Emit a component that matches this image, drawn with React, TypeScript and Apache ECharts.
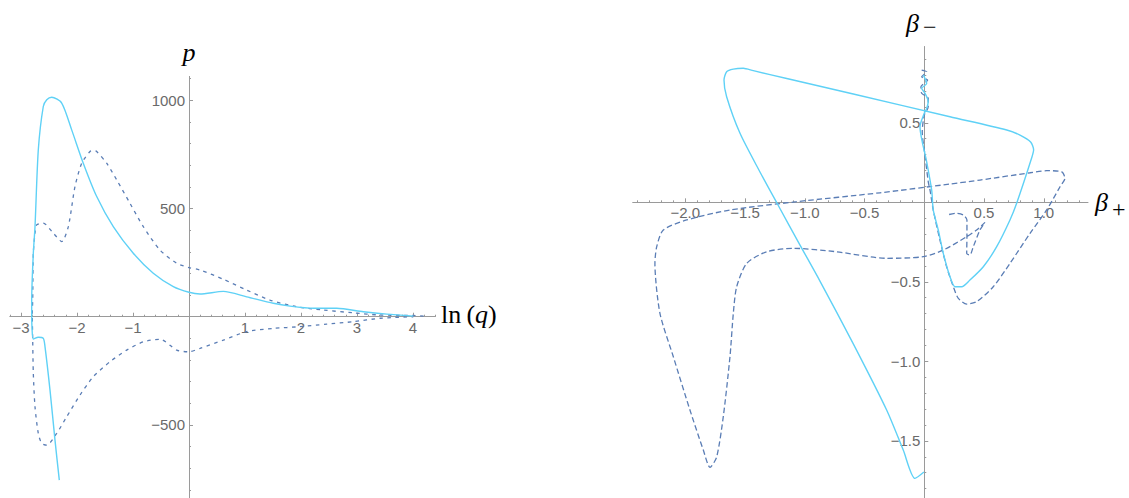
import React, { useEffect, useRef } from "react";
import * as echarts from "echarts";

// ---------- Left plot: p versus ln(q) ----------
const lnQSolid = [-2.316, -2.393, -2.482, -2.571, -2.602, -2.691, -2.78, -2.804, -2.809, -2.809, -2.78, -2.75, -2.691, -2.602, -2.54, -2.452, -2.273, -2.095, -1.888, -1.648, -1.352, -0.995, -0.638, -0.28, 0, 0.196, 0.613, 1.03, 1.505, 1.804, 2.22, 2.638, 3.113, 3.53, 4.005];
const pSolid = [-755, -570, -339, -139, -100, -95, -103, -46, 16, 77, 293, 416, 771, 971, 1002, 1014, 987, 863, 709, 555, 416, 293, 201, 139, 113, 105, 117, 92, 62, 49, 39, 39, 23, 12, 3];

const lnQDashed = [4.189, 4.005, 3.411, 2.934, 2.398, 1.923, 1.446, 1.03, 0.613, 0.196, 0, -0.22, -0.518, -0.816, -1.054, -1.291, -1.47, -1.648, -1.708, -1.768, -1.916, -2.036, -2.155, -2.273, -2.423, -2.602, -2.72, -2.75, -2.78, -2.791, -2.798, -2.791, -2.78, -2.75, -2.691, -2.63, -2.541, -2.363, -2.184, -1.946, -1.709, -1.411, -1.113, -0.816, -0.518, -0.22, 0, 0.196, 0.613, 1.03, 1.505, 1.982, 2.459, 2.934, 3.411, 4.005];
const pDashed = [3, 6, 8, 18, 31, 46, 77, 123, 173, 216, 227, 247, 308, 416, 524, 632, 709, 763, 768, 763, 709, 601, 416, 347, 386, 432, 424, 386, 293, 77, 16, -108, -262, -416, -539, -585, -593, -539, -462, -362, -277, -208, -154, -116, -104, -154, -162, -146, -108, -69, -54, -46, -34, -23, -7, 0];

const leftXLabels = [-3, -2, -1, 1, 2, 3, 4];
const leftYLabels = [-500, 500, 1000];

// ---------- Right plot: beta_- versus beta_+ ----------
const betaPlusSolid = [-0.008, 0.02, -0.022, 0.006, 0.033, 0.02, 0.0, -0.036, 0.02, 0.062, 0.075, 0.117, 0.159, 0.215, 0.257, 0.313, 0.382, 0.494, 0.606, 0.717, 0.773, 0.899, 0.915, 0.89, 0.801, 0.69, 0.215, -0.594, -1.151, -1.431, -1.515, -1.598, -1.654, -1.676, -1.654, -1.542, -1.375, -1.224, -1.04, -0.873, -0.594, -0.315, -0.176, -0.078, -0.003];
const betaMinusSolid = [0.8, 0.748, 0.717, 0.686, 0.633, 0.591, 0.56, 0.475, 0.255, 0.077, -0.048, -0.174, -0.321, -0.468, -0.531, -0.531, -0.489, -0.405, -0.279, -0.111, -0.006, 0.28, 0.33, 0.38, 0.423, 0.455, 0.538, 0.681, 0.779, 0.828, 0.843, 0.838, 0.821, 0.769, 0.664, 0.434, 0.191, -0.017, -0.269, -0.495, -0.89, -1.306, -1.558, -1.736, -1.696];

const betaPlusDashed = [-0.022, 0.02, -0.022, 0.028, -0.028, -0.022, 0.033, 0.033, 0.0, -0.017, 0.006, 0.033, 0.048, 0.075, 0.131, 0.187, 0.243, 0.285, 0.355, 0.438, 0.577, 0.717, 0.885, 1.024, 1.136, 1.177, 1.15, 1.024, 0.885, 0.466, 0.215, -0.371, -1.068, -1.626, -1.988, -2.184, -2.239, -2.254, -2.212, -2.1, -1.961, -1.849, -1.793, -1.737, -1.682, -1.626, -1.598, -1.57, -1.486, -1.319, -1.096, -0.733, -0.315, -0.008, 0.159, 0.355, 0.438, 0.508, 0.466, 0.41, 0.382, 0.355, 0.357, 0.357, 0.326, 0.271, 0.187];
const betaMinusDashed = [0.832, 0.821, 0.79, 0.769, 0.727, 0.686, 0.654, 0.601, 0.549, 0.444, 0.297, 0.13, 0.077, -0.048, -0.237, -0.405, -0.531, -0.604, -0.64, -0.625, -0.531, -0.384, -0.195, -0.048, 0.098, 0.151, 0.192, 0.199, 0.186, 0.14, 0.115, 0.06, 0.004, -0.048, -0.111, -0.174, -0.279, -0.384, -0.698, -0.971, -1.306, -1.558, -1.667, -1.6, -1.348, -0.971, -0.698, -0.531, -0.384, -0.311, -0.289, -0.311, -0.352, -0.342, -0.3, -0.216, -0.174, -0.126, -0.174, -0.279, -0.331, -0.321, -0.212, -0.111, -0.08, -0.069, -0.08];

const rightXLabels = [-2.0, -1.5, -1.0, -0.5, 0.5, 1.0];
const rightYLabels = [-1.5, -1.0, -0.5, 0.5];

// ---------- styling / layout ----------
const SOLID_COLOR = "#5fd1f6";
const DASHED_COLOR = "#5a7db5";
const AXIS_COLOR = "#9a9a9a";
const LABEL_COLOR = "#6a6a6a";
const SANS = '"Liberation Sans", Arial, sans-serif';
const SERIF = '"Liberation Serif", "Times New Roman", serif';

const L_XMIN = -3.2, L_XMAX = 4.4, L_YMIN = -840, L_YMAX = 1110;
const R_XMIN = -2.44, R_XMAX = 1.37, R_YMIN = -1.86, R_YMAX = 0.98;
const LG = { left: 9.8, top: 76.4, width: 425.6, height: 422.2 };
const RG = { left: 632.7, top: 46.5, width: 455.3, height: 451.6 };

// distance of the zero lines from the grid's bottom / left edges (axes cross at the origin)
const lxOff = -((0 - L_YMIN) / (L_YMAX - L_YMIN)) * LG.height;
const lyOff = -((0 - L_XMIN) / (L_XMAX - L_XMIN)) * LG.width;
const rxOff = -((0 - R_YMIN) / (R_YMAX - R_YMIN)) * RG.height;
const ryOff = -((0 - R_XMIN) / (R_XMAX - R_XMIN)) * RG.width;

function zip(xs: number[], ys: number[]) {
  return xs.map((x, i) => [x, ys[i]]);
}

function range(start: number, end: number, step: number, exclude: number[]) {
  const out: number[] = [];
  const n = Math.round((end - start) / step);
  for (let i = 0; i <= n; i++) {
    const v = Math.round((start + i * step) * 1000) / 1000;
    if (!exclude.some((e) => Math.abs(e - v) < 1e-9) && Math.abs(v) > 1e-9) out.push(v);
  }
  return out;
}

const minus = (s: string) => s.replace("-", "\u2212");

function majorAxis(gridIndex: number, min: number, max: number, ticks: number[], isX: boolean, offset: number, fmt: (v: number) => string) {
  return {
    type: "value",
    gridIndex,
    min,
    max,
    offset,
    position: isX ? "bottom" : "left",
    axisLine: { show: true, onZero: false, lineStyle: { color: AXIS_COLOR, width: 1 } },
    axisTick: { show: true, inside: true, length: 4, customValues: ticks, lineStyle: { color: AXIS_COLOR, width: 1 } },
    axisLabel: {
      show: true,
      customValues: ticks,
      formatter: (v: number) => fmt(v),
      color: LABEL_COLOR,
      fontSize: 15,
      fontFamily: SANS,
      margin: isX ? 3 : 4,
    },
    splitLine: { show: false },
    axisPointer: { show: false },
  };
}

function minorAxis(gridIndex: number, min: number, max: number, ticks: number[], isX: boolean, offset: number) {
  return {
    type: "value",
    gridIndex,
    min,
    max,
    offset,
    position: isX ? "bottom" : "left",
    axisLine: { show: false, onZero: false },
    axisTick: { show: true, inside: true, length: 2, customValues: ticks, lineStyle: { color: AXIS_COLOR, width: 1 } },
    axisLabel: { show: false },
    splitLine: { show: false },
    axisPointer: { show: false },
  };
}

const intFmt = (v: number) => minus(String(Math.round(v)));
const decFmt = (v: number) => minus(v.toFixed(1));

const option = {
  animation: false,
  backgroundColor: "#ffffff",
  grid: [
    { ...LG, outerBoundsMode: "none", containLabel: false },
    { ...RG, outerBoundsMode: "none", containLabel: false },
  ],
  xAxis: [
    majorAxis(0, L_XMIN, L_XMAX, leftXLabels, true, lxOff, intFmt),
    minorAxis(0, L_XMIN, L_XMAX, range(L_XMIN, L_XMAX, 0.2, leftXLabels), true, lxOff),
    majorAxis(1, R_XMIN, R_XMAX, rightXLabels, true, rxOff, decFmt),
    minorAxis(1, R_XMIN, R_XMAX, range(-2.4, 1.3, 0.1, rightXLabels), true, rxOff),
  ],
  yAxis: [
    majorAxis(0, L_YMIN, L_YMAX, leftYLabels, false, lyOff, intFmt),
    minorAxis(0, L_YMIN, L_YMAX, range(-800, 1100, 100, leftYLabels), false, lyOff),
    majorAxis(1, R_YMIN, R_YMAX, rightYLabels, false, ryOff, decFmt),
    minorAxis(1, R_YMIN, R_YMAX, range(-1.8, 0.9, 0.1, rightYLabels), false, ryOff),
  ],
  series: [
    {
      type: "line",
      xAxisIndex: 0,
      yAxisIndex: 0,
      data: zip(lnQDashed, pDashed),
      showSymbol: false,
      symbol: "none",
      smooth: 0.25,
      lineStyle: { color: DASHED_COLOR, width: 1.3, type: [3.5, 4.5] },
    },
    {
      type: "line",
      xAxisIndex: 0,
      yAxisIndex: 0,
      data: zip(lnQSolid, pSolid),
      showSymbol: false,
      symbol: "none",
      smooth: 0.25,
      lineStyle: { color: SOLID_COLOR, width: 1.4 },
    },
    {
      type: "line",
      xAxisIndex: 2,
      yAxisIndex: 2,
      data: zip(betaPlusDashed, betaMinusDashed),
      showSymbol: false,
      symbol: "none",
      smooth: 0.25,
      lineStyle: { color: DASHED_COLOR, width: 1.3, type: [5.5, 3] },
    },
    {
      type: "line",
      xAxisIndex: 2,
      yAxisIndex: 2,
      data: zip(betaPlusSolid, betaMinusSolid),
      showSymbol: false,
      symbol: "none",
      smooth: 0.25,
      lineStyle: { color: SOLID_COLOR, width: 1.4 },
    },
  ],
  graphic: [
    {
      type: "text",
      x: 189,
      y: 52,
      style: { text: "p", font: `italic 26px ${SERIF}`, fill: "#000", align: "center", verticalAlign: "middle" },
    },
    {
      type: "text",
      x: 441,
      y: 314,
      style: {
        text: "{r|ln\u2009(}{i|q}{r|)}",
        align: "left",
        verticalAlign: "middle",
        fill: "#000",
        rich: {
          r: { fontFamily: SERIF, fontSize: 26, fill: "#000" },
          i: { fontFamily: SERIF, fontSize: 26, fontStyle: "italic", fill: "#000" },
        },
      },
    },
    {
      type: "text",
      x: 906,
      y: 23,
      style: { text: "\u03b2", font: `italic 26px ${SERIF}`, fill: "#000", align: "left", verticalAlign: "middle" },
    },
    {
      type: "text",
      x: 923,
      y: 27,
      style: { text: "\u2212", font: `24px ${SERIF}`, fill: "#000", align: "left", verticalAlign: "middle" },
    },
    {
      type: "text",
      x: 1095,
      y: 202,
      style: { text: "\u03b2", font: `italic 26px ${SERIF}`, fill: "#000", align: "left", verticalAlign: "middle" },
    },
    {
      type: "text",
      x: 1112,
      y: 209,
      style: { text: "+", font: `24px ${SERIF}`, fill: "#000", align: "left", verticalAlign: "middle" },
    },
  ],
};

export default function App() {
  const ref = useRef<HTMLDivElement>(null);
  useEffect(() => {
    if (!ref.current) return;
    const chart = echarts.init(ref.current, null, { renderer: "svg" });
    chart.setOption(option as any);
    return () => chart.dispose();
  }, []);
  return (
    <div
      ref={ref}
      style={{ position: "fixed", left: 0, top: 0, width: 1129, height: 498, background: "#fff" }}
    />
  );
}
